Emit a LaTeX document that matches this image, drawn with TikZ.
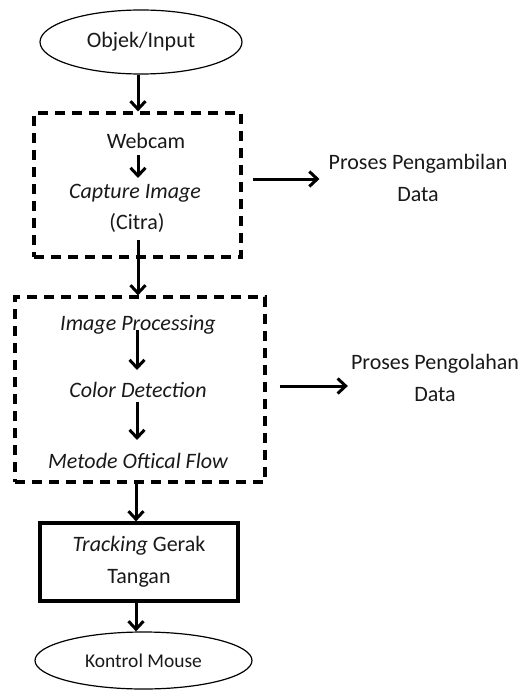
\documentclass[tikz,border=0pt]{standalone}
\usepackage{fontspec}
\setmainfont{Carlito}
\usetikzlibrary{arrows.meta,shapes.geometric}
\begin{document}
\begin{tikzpicture}[x=1pt,y=-1pt,
  every node/.style={font=\fontsize{22}{32}\selectfont, inner sep=0pt, text=black!90},
  arr/.style={-{Straight Barb[length=8pt,width=15pt,line width=3pt]}, line width=3pt},
  dbox/.style={draw, dash pattern=on 10pt off 7pt, line width=3.2pt},
  oval/.style={draw, ellipse, line width=1.2pt},
  pbox/.style={draw, line width=3.2pt, align=center},
  lbl/.style={align=center}
]
\useasboundingbox (0,0) rectangle (524,690);
% top ellipse
\node[oval, minimum width=202pt, minimum height=64pt] (inp) at (141,42) {Objek/Input};
% dashed box 1
\node[dbox, minimum width=207pt, minimum height=144pt] (box1) at (137.5,185) {};
\node (web) at (146,141) {Webcam};
\node (cap) at (135,193) {\itshape Capture Image};
\node (cit) at (137,223) {(Citra)};
% dashed box 2
\node[dbox, minimum width=250pt, minimum height=185pt] (box2) at (140,389.5) {};
\node (ip) at (138,325) {\itshape Image Processing};
\node (cd) at (138,390) {\itshape Color Detection};
\node (mo) at (138,461) {\itshape Metode Oftical Flow};
% tracking box
\node[pbox, minimum width=198pt, minimum height=78pt] (trk) at (139,562) {\textit{Tracking} Gerak\\Tangan};
% bottom ellipse
\node[oval, minimum width=217pt, minimum height=57pt, font=\fontsize{19.5}{22}\selectfont] (km) at (143.5,660.5) {Kontrol Mouse};
% side labels
\node[lbl] (pa) at (418,178) {Proses Pengambilan\\Data};
\node[lbl] (po) at (435,378) {Proses Pengolahan\\Data};
% connectors
\draw[arr] (inp.south -| 138,0) -- (box1.north -| 138,0);
\draw[arr] ([yshift=-14pt]web.center -| 138,0) -- ([yshift=15pt]cap.center -| 138,0);
\draw[arr] ([yshift=-17pt]cit.center -| 138,0) -- (box2.north -| 138,0);
\draw[arr] ([yshift=-5pt]ip.center -| 137,0) -- ([yshift=20pt]cd.center -| 137,0);
\draw[arr] ([yshift=-12pt]cd.center -| 137,0) -- ([yshift=21pt]mo.center -| 137,0);
\draw[arr] (box2.south -| 136,0) -- (trk.north -| 136,0);
\draw[arr] (trk.south -| 136,0) -- (km.north -| 136,0);
\draw[arr] ([xshift=10pt]box1.east |- 0,179) -- ([xshift=-9pt]pa.west |- 0,179);
\draw[arr] ([xshift=13pt]box2.east |- 0,386) -- ([xshift=-3pt]po.west |- 0,386);
\end{tikzpicture}
\end{document}
